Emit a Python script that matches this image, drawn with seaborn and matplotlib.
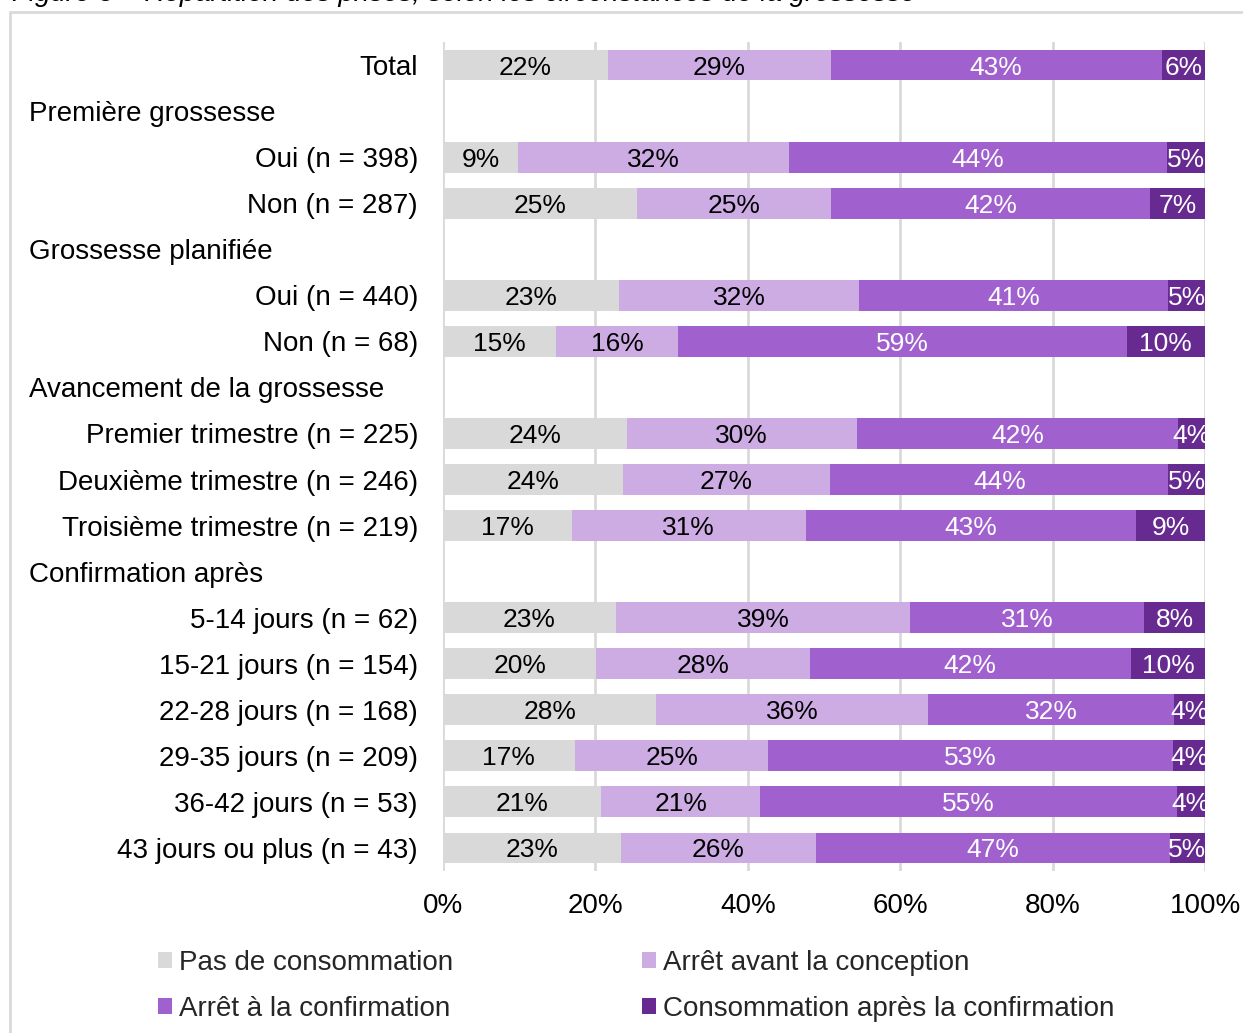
import matplotlib
matplotlib.use("Agg")
import matplotlib.pyplot as plt
from matplotlib.patches import Patch, Rectangle
import matplotlib.transforms as mtrans
import seaborn as sns
import pandas as pd
import numpy as np

# ---------------- data ----------------
rows = ["Total", "Première grossesse", "Oui (n = 398)", "Non (n = 287)",
        "Grossesse planifiée", "Oui (n = 440)", "Non (n = 68)",
        "Avancement de la grossesse", "Premier trimestre (n = 225)",
        "Deuxième trimestre (n = 246)", "Troisième trimestre (n = 219)",
        "Confirmation après", "5-14 jours (n = 62)", "15-21 jours (n = 154)",
        "22-28 jours (n = 168)", "29-35 jours (n = 209)", "36-42 jours (n = 53)",
        "43 jours ou plus (n = 43)"]
headers = ["Première grossesse", "Grossesse planifiée",
           "Avancement de la grossesse", "Confirmation après"]
data_rows = [r for r in rows if r not in headers]

series = ["Pas de consommation", "Arrêt avant la conception",
          "Arrêt à la confirmation", "Consommation après la confirmation"]

# segment widths (as drawn)
pas = [21.6, 9.9, 25.4, 23.1, 14.8, 24.1, 23.6, 16.9, 22.7, 20.1, 28.0, 17.3, 20.8, 23.3]
avant = [29.3, 35.5, 25.5, 31.5, 16.1, 30.2, 27.2, 30.7, 38.6, 28.0, 35.7, 25.4, 20.8, 25.6]
conf = [43.4, 49.6, 41.9, 40.6, 58.8, 42.2, 44.4, 43.4, 30.7, 42.2, 32.2, 53.1, 54.7, 46.5]
apres = [5.7, 5.0, 7.2, 4.8, 10.3, 3.5, 4.8, 9.0, 8.0, 9.7, 4.1, 4.2, 3.7, 4.6]

# printed labels
lab_pas = [22, 9, 25, 23, 15, 24, 24, 17, 23, 20, 28, 17, 21, 23]
lab_avant = [29, 32, 25, 32, 16, 30, 27, 31, 39, 28, 36, 25, 21, 26]
lab_conf = [43, 44, 42, 41, 59, 42, 44, 43, 31, 42, 32, 53, 55, 47]
lab_apres = [6, 5, 7, 5, 10, 4, 5, 9, 8, 10, 4, 4, 4, 5]

xticks = [0, 20, 40, 60, 80, 100]
xticklabels = ["0%", "20%", "40%", "60%", "80%", "100%"]

colors = ["#d9d9d9", "#cdace4", "#a061cf", "#662a91"]
text_colors = ["black", "black", "white", "white"]

# ---------------- figure ----------------
sns.set_theme(style="white")
plt.rcParams["font.family"] = ["Liberation Sans", "DejaVu Sans"]

W, H = 1243, 1033
fig = plt.figure(figsize=(W / 100, H / 100), dpi=100)
ax = fig.add_axes([443 / W, 1 - 871 / H, (1205 - 443) / W, (871 - 42) / H])

vals = np.array([pas, avant, conf, apres])
cums = np.cumsum(vals, axis=0)
labs = [lab_pas, lab_avant, lab_conf, lab_apres]

# draw cumulative bars from longest to shortest
for i in range(3, -1, -1):
    df = pd.DataFrame({"row": data_rows, "value": cums[i]})
    sns.barplot(data=df, x="value", y="row", order=rows, orient="h",
                color=colors[i], saturation=1, width=0.67, errorbar=None,
                linewidth=0, ax=ax, zorder=2)

ypos = {r: k for k, r in enumerate(rows)}
for i in range(4):
    for j, r in enumerate(data_rows):
        center = cums[i][j] - vals[i][j] / 2
        ax.text(center, ypos[r], f"{labs[i][j]}%", ha="center",
                va="center_baseline", fontsize=19, color=text_colors[i],
                clip_on=True, zorder=3)

ax.set_xlim(0, 100)
ax.set_ylim(17.5, -0.5)
ax.set_xticks(xticks)
ax.set_xticklabels(xticklabels, fontsize=20, color="black")
ax.set_yticks(range(len(rows)))
ax.set_yticklabels([("" if r in headers else r) for r in rows], fontsize=20, color="black")
ax.tick_params(axis="x", length=0, pad=16)
ax.tick_params(axis="y", length=0, pad=18)
ax.set_xlabel("")
ax.set_ylabel("")
ax.grid(axis="x", color="#d9d9d9", linewidth=2, zorder=0)
ax.grid(axis="y", visible=False)
ax.set_axisbelow(True)
for s in ax.spines.values():
    s.set_visible(False)

# headers
trans = mtrans.blended_transform_factory(fig.transFigure, ax.transData)
for h in headers:
    ax.text(29 / W, ypos[h], h, transform=trans, ha="left", va="center_baseline",
            fontsize=20, color="black")

# legend
handles = [Patch(facecolor=c, edgecolor="none") for c in colors]
order = [0, 2, 1, 3]
fig.legend([handles[k] for k in order], [series[k] for k in order],
           loc="upper left", bbox_to_anchor=(158 / W, 1 - 950 / H), ncol=2,
           frameon=False, fontsize=20, handlelength=0.5, handleheight=0.5,
           handletextpad=0.24, columnspacing=6.82, labelspacing=0.72,
           borderpad=0, borderaxespad=0)

# outer frame and cropped title
fig.patches.append(Rectangle((10 / W, -0.1), 1.2, (H - 12) / H + 0.1,
                             transform=fig.transFigure, fill=False,
                             edgecolor="#d9d9d9", linewidth=2))
fig.text(12 / W, 1 - 1.0 / H,
         "Figure 3 – Répartition des prises, selon les circonstances de la grossesse",
         ha="left", va="baseline", fontsize=20, style="italic", color="black")

fig.savefig("out.png", dpi=100)
